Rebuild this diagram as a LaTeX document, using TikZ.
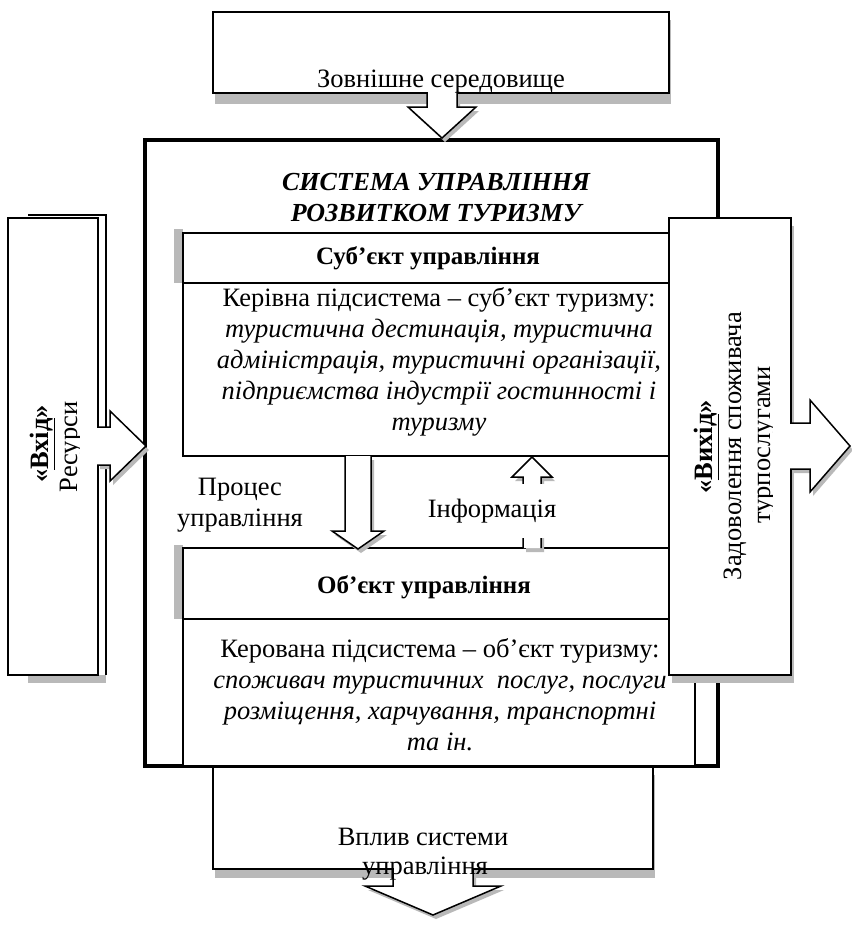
\documentclass[tikz,border=0pt]{standalone}
\usepackage{fontspec}
\setmainfont{Liberation Serif}
\newcommand{\blkV}[6]{% cx, y0, sw, y1, hw, y2
  \fill[gray!55] ({#1-#3+3},{#2+4}) -- ({#1-#3+3},{#4+4}) -- ({#1-#5+3},{#4+4}) -- ({#1+3},{#6+4}) -- ({#1+#5+3},{#4+4}) -- ({#1+#3+3},{#4+4}) -- ({#1+#3+3},{#2+4}) -- cycle;
  \fill[white] ({#1-#3},#2) -- ({#1-#3},#4) -- ({#1-#5},#4) -- (#1,#6) -- ({#1+#5},#4) -- ({#1+#3},#4) -- ({#1+#3},#2) -- cycle;
  \draw[arrowline] ({#1-#3},#2) -- ({#1-#3},#4) -- ({#1-#5},#4) -- (#1,#6) -- ({#1+#5},#4) -- ({#1+#3},#4) -- ({#1+#3},#2);
}
\newcommand{\blkH}[6]{% cy, x0, sw, x1, hw, x2
  \fill[gray!55] ({#2+3},{#1-#3+4}) -- ({#4+3},{#1-#3+4}) -- ({#4+3},{#1-#5+4}) -- ({#6+3},{#1+4}) -- ({#4+3},{#1+#5+4}) -- ({#4+3},{#1+#3+4}) -- ({#2+3},{#1+#3+4}) -- cycle;
  \fill[white] (#2,{#1-#3}) -- (#4,{#1-#3}) -- (#4,{#1-#5}) -- (#6,#1) -- (#4,{#1+#5}) -- (#4,{#1+#3}) -- (#2,{#1+#3}) -- cycle;
  \draw[arrowline] (#2,{#1-#3}) -- (#4,{#1-#3}) -- (#4,{#1-#5}) -- (#6,#1) -- (#4,{#1+#5}) -- (#4,{#1+#3}) -- (#2,{#1+#3});
}
\begin{document}
\begin{tikzpicture}[x=1pt,y=-1pt,
  box/.style={draw=black, line width=1.6pt, fill=white, inner sep=0pt},
  bigbox/.style={draw=black, line width=4pt, fill=white, inner sep=0pt},
  shade/.style={fill=gray!55},
  arrowline/.style={draw=black, line width=1.5pt, line join=miter},
  txt/.style={font=\fontsize{26.5}{31}\selectfont, align=center, inner sep=0pt},
  hdr/.style={font=\fontsize{25}{30}\selectfont\bfseries, align=center, inner sep=0pt},
  ttl/.style={font=\fontsize{26}{31}\selectfont\bfseries\itshape, align=center, inner sep=0pt}]
\useasboundingbox (0,0) rectangle (852,930);
\fill[white] (0,0) rectangle (852,930);
% system box
\node[bigbox, minimum width=573pt, minimum height=626pt] (sys) at (431.5,453) {};
% subject
\fill[shade] (174,229) rectangle (183,283);
\node[box, minimum width=512pt, minimum height=50pt] (subjH) at (439,258) {};
\node[box, minimum width=512pt, minimum height=173pt] (subjB) at (439,369.5) {};
% object
\fill[shade] (174,545) rectangle (183,619);
\node[box, minimum width=512pt, minimum height=71pt] (objH) at (439,583.5) {};
\node[box, minimum width=512pt, minimum height=147pt] (objB) at (439,692.5) {};
% output box
\fill[shade] (672,226) rectangle (794,683);
\node[box, minimum width=122pt, minimum height=457pt] (out) at (730,446.5) {};
% input box
\fill[shade] (28,222) rectangle (106,683);
\fill[white] (98,215) rectangle (106,675);
\draw[line width=1.6pt] (28,215) -- (106,215) -- (106,675);
\node[box, minimum width=90pt, minimum height=457pt] (in) at (53,446.5) {};
% environment box
\fill[shade] (215,20) rectangle (671,104);
\node[box, minimum width=456pt, minimum height=81pt] (env) at (441,52.5) {};
% influence box
\fill[shade] (215,775) rectangle (655,878);
\node[box, minimum width=440pt, minimum height=102pt] (infl) at (433,818) {};
% block arrows
\blkV{442}{92.2}{15}{107}{34}{138}
\blkV{433}{868.2}{40}{886}{68}{915}
\blkV{358}{456}{13}{531}{26}{549}
\blkV{532}{548}{9}{477}{20}{457}
\blkH{446}{97.2}{19}{110}{35}{146}
\blkH{446}{790.2}{23}{810}{46}{850}
% white patch over left border (text frame of "Процес управління")
\fill[white] (147,459) rectangle (312,538);
% texts
\node[txt, anchor=base] (envT) at (441,87) {Зовнішне середовище};
\node[ttl] (title) at (436,198) {СИСТЕМА УПРАВЛІННЯ\\РОЗВИТКОМ ТУРИЗМУ};
\node[hdr] (subjT) at (428,258) {Суб’єкт управління};
\node[txt] (subjD) at (439,362) {Керівна підсистема – суб’єкт туризму:\\
  \textit{туристична дестинація, туристична}\\
  \textit{адміністрація, туристичні організації,}\\
  \textit{підприємства індустрії гостинності і}\\
  \textit{туризму}};
\node[txt] (proc) at (240,505) {Процес\\управління};
\node[txt, fill=white, minimum width=132pt, minimum height=54pt] (info) at (492,511) {Інформація};
\node[hdr] (objT) at (424,587) {Об’єкт управління};
\node[txt] (objD) at (440,695) {Керована підсистема – об’єкт туризму:\\
  \textit{споживач туристичних\ \ послуг, послуги}\\
  \textit{розміщення, харчування, транспортні}\\
  \textit{та ін.}};
\node[txt, anchor=base] (inflT1) at (423,845) {Вплив системи};
\node[txt, anchor=base] (inflT2) at (425,874) {управління};
\begin{scope}
  \clip (10,220) rectangle (79,672);
  \node[txt, rotate=90, anchor=base] (inT1) at (48,444) {\textbf{«\underline{Вхід}»}};
  \node[txt, rotate=90, anchor=base] (inT2) at (77,447) {Ресурси};
\end{scope}
\begin{scope}
  \clip (671,220) rectangle (772,672);
  \node[txt, rotate=90, anchor=base] (outT1) at (712,447) {\textbf{«\underline{Вихід}»}};
  \node[txt, rotate=90, anchor=base] (outT2) at (741,446) {Задоволення споживача};
  \node[txt, rotate=90, anchor=base] (outT3) at (770,445) {турпослугами};
\end{scope}
\end{tikzpicture}
\end{document}
